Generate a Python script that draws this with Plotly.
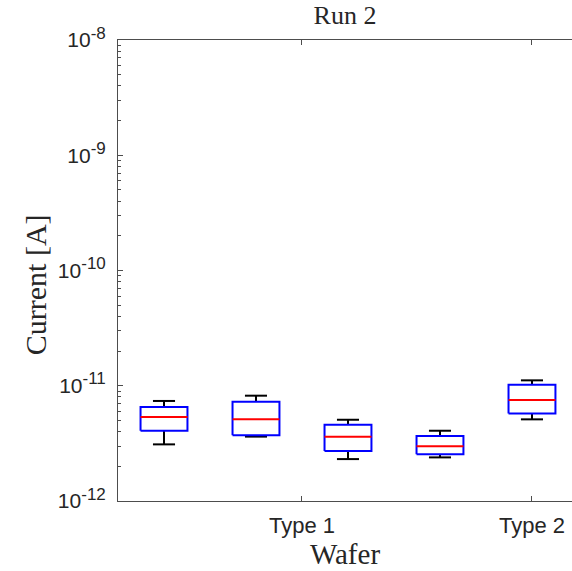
import plotly.graph_objects as go

# Data
positions = [1, 2, 3, 4, 5]
upper_whisker = [7.38e-12, 8.20e-12, 5.07e-12, 4.07e-12, 1.114e-11]
q3 = [6.55e-12, 7.28e-12, 4.59e-12, 3.66e-12, 1.021e-11]
median = [5.36e-12, 5.11e-12, 3.61e-12, 2.98e-12, 7.52e-12]
q1 = [4.07e-12, 3.72e-12, 2.72e-12, 2.54e-12, 5.75e-12]
lower_whisker = [3.10e-12, 3.62e-12, 2.31e-12, 2.39e-12, 5.11e-12]

xtick_vals = [2.5, 5]
xtick_text = ["Type 1", "Type 2"]
ytick_exps = [-12, -11, -10, -9, -8]

ytick_vals = [10.0 ** e for e in ytick_exps]
ytick_text = ["10<sup><span style='font-size:17px'>%d</span></sup>" % e for e in ytick_exps]
minor_vals = [k * 10.0 ** e for e in ytick_exps[:-1] for k in range(2, 10)]

box_hw = 0.255
cap_hw = 0.12

wx, wy, bx, by, mx, my = [], [], [], [], [], []
for p, uw, a, m, b, lw in zip(positions, upper_whisker, q3, median, q1, lower_whisker):
    wx += [p, p, None, p - cap_hw, p + cap_hw, None, p, p, None, p - cap_hw, p + cap_hw, None]
    wy += [a, uw, None, uw, uw, None, b, lw, None, lw, lw, None]
    bx += [p - box_hw, p + box_hw, p + box_hw, p - box_hw, p - box_hw, None]
    by += [b, b, a, a, b, None]
    mx += [p - box_hw, p + box_hw, None]
    my += [m, m, None]

fig = go.Figure()
fig.add_trace(go.Scatter(x=wx, y=wy, mode="lines", line=dict(color="black", width=2),
                         hoverinfo="skip", showlegend=False))
fig.add_trace(go.Scatter(x=bx, y=by, mode="lines", line=dict(color="#0000FF", width=2),
                         hoverinfo="skip", showlegend=False))
fig.add_trace(go.Scatter(x=mx, y=my, mode="lines", line=dict(color="#FF0000", width=2),
                         hoverinfo="skip", showlegend=False))

axis_col = "#4d4d4d"
txt_col = "#262626"
fig.update_layout(
    width=572, height=571,
    margin=dict(l=118, r=0, t=40, b=70),
    plot_bgcolor="white", paper_bgcolor="white",
    title=dict(text="Run 2", x=0.5, xanchor="center", xref="paper", y=1 - 15 / 571, yanchor="middle",
               font=dict(family="Liberation Serif", size=26, color=txt_col)),
    font=dict(family="Liberation Sans", color=txt_col),
    annotations=[dict(text="Current [A]", xref="paper", yref="paper", x=-0.183, y=0.47,
                      xanchor="center", yanchor="middle", textangle=-90, showarrow=False,
                      font=dict(family="Liberation Serif", size=30, color=txt_col))],
)
fig.update_xaxes(
    range=[0.5, 5.435], tickvals=xtick_vals, ticktext=xtick_text,
    showline=True, linecolor=axis_col, linewidth=1, mirror="ticks",
    ticks="inside", ticklen=5, tickcolor=axis_col, showgrid=False, zeroline=False,
    tickfont=dict(size=22, color=txt_col), ticklabelstandoff=5,
    title=dict(text="Wafer", standoff=2, font=dict(family="Liberation Serif", size=29, color=txt_col)),
)
fig.update_yaxes(
    type="log", range=[-12, -8], tickvals=ytick_vals, ticktext=ytick_text,
    showline=True, linecolor=axis_col, linewidth=1, mirror=False,
    ticks="inside", ticklen=5, tickcolor=axis_col, showgrid=False, zeroline=False,
    minor=dict(tickvals=minor_vals, ticks="inside", ticklen=3, tickcolor=axis_col, showgrid=False),
    tickfont=dict(size=21, color=txt_col), ticklabelstandoff=7,
)

fig.write_html("out.html")
